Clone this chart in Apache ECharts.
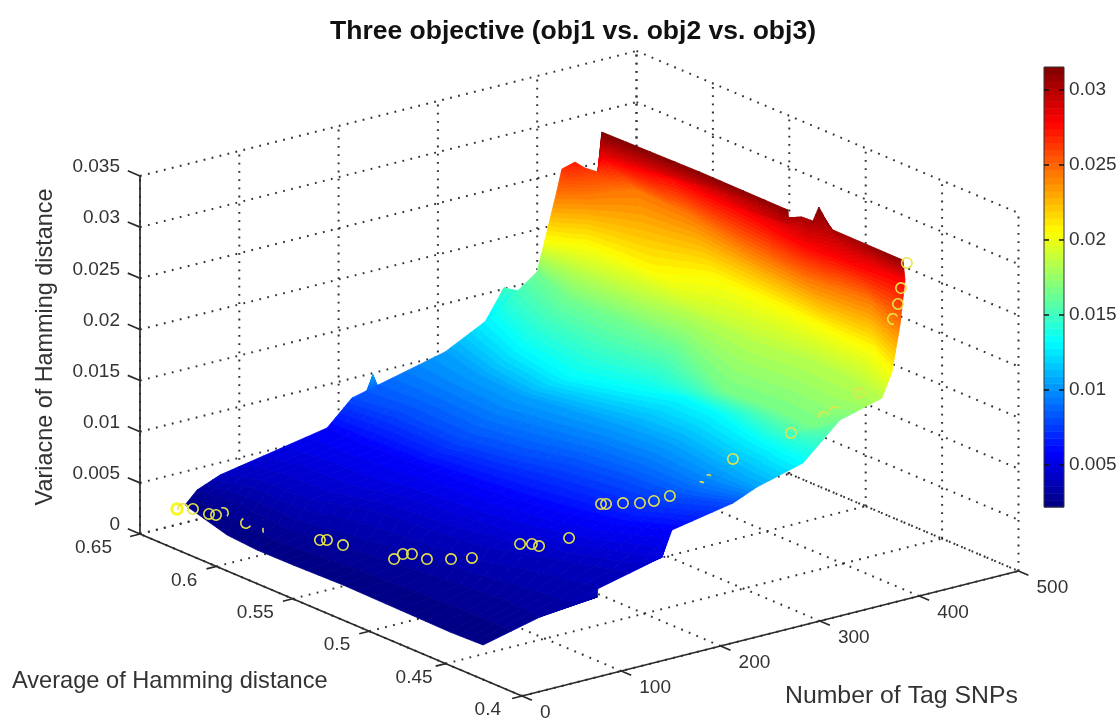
<!DOCTYPE html>
<html>
<head>
<meta charset="utf-8">
<style>
html,body{margin:0;padding:0;background:#fff}
#chart{width:1120px;height:720px}
#chart canvas{filter:blur(0.45px)}
</style>
<script src="https://cdn.jsdelivr.net/npm/echarts@6/dist/echarts.min.js"></script>
</head>
<body>
<div id="chart"></div>
<script>
// ---------- axis ticks ----------
var xTicks = [0, 100, 200, 300, 400, 500];
var yTicks = [0.4, 0.45, 0.5, 0.55, 0.6, 0.65];
var zTicks = [0, 0.005, 0.01, 0.015, 0.02, 0.025, 0.03, 0.035];
var zTickLabels = ['0', '0.005', '0.01', '0.015', '0.02', '0.025', '0.03', '0.035'];
var yTickLabels = ['0.4', '0.45', '0.5', '0.55', '0.6', '0.65'];
var xTickLabels = ['0', '100', '200', '300', '400', '500'];
var barTicks = [0.005, 0.01, 0.015, 0.02, 0.025, 0.03];
var barMin = 0.0022, barMax = 0.03153;

// ---------- surface (obj2 = tag SNPs, obj1 = average, obj3 = variance) ----------
var surfaceTagSNPs = [
 [38.1,20.0,16.6,17.0,18.8,17.5,16.3,17.9],
 [55.9,60.6,55.0,63.0,72.3,80.4,86.6,83.4],
 [77.5,95.4,97.2,120.2,128.3,139.4,165.7,190.5],
 [187.7,186.4,189.5,194.3,199.1,209.8,225.2,253.8],
 [214.7,224.2,222.2,235.9,252.6,261.8,268.1,299.0],
 [303.9,291.7,287.1,296.4,305.6,310.4,301.8,299.9],
 [341.8,317.5,304.4,327.5,346.0,343.7,330.6,323.5],
 [389.7,368.8,370.8,371.3,329.7,334.4,331.0,360.6],
 [385.5,385.1,387.0,394.9,392.6,400.6,398.9,389.4],
 [381.5,390.3,400.6,402.0,400.6,431.0,430.5,426.3,424.9,404.1],
 [394.6,405.3,416.1,433.1,453.2,449.4,436.3,428.4,436.5,418.2],
 [406.6,414.5,422.6,429.4,425.4,440.1,436.2,425.7,427.1,435.1]
];
var surfaceAvgHamming = [
 [.6453,.6060,.5842,.5609,.5293,.4912,.4577,.4371],
 [.6490,.6240,.5876,.5567,.5269,.4929,.4674,.4424],
 [.6480,.6334,.6019,.5776,.5436,.5115,.4828,.4532],
 [.6496,.6239,.5965,.5669,.5372,.5115,.4855,.4668],
 [.6508,.6255,.5831,.5547,.5328,.5061,.4774,.4562],
 [.6479,.6171,.5880,.5612,.5345,.5049,.4666,.4411],
 [.6431,.6077,.5665,.5376,.5196,.4958,.4638,.4264],
 [.6435,.6083,.5736,.5379,.4814,.4518,.4254,.4263],
 [.6381,.6136,.5743,.5435,.5027,.4719,.4447,.4175],
 [.6329,.6249,.6178,.5972,.5746,.5552,.5090,.4690,.4464,.4205],
 [.6342,.6300,.6259,.6239,.6193,.5822,.5409,.4946,.4560,.4244],
 [.6381,.6347,.6334,.6294,.6241,.5892,.5428,.4928,.4630,.4321]
];
var surfaceVariance = [
 [.0022,.0022,.0022,.0022,.0022,.0022,.0022,.0022],
 [.003,.003,.003,.003,.003,.003,.003,.003],
 [.004,.004,.004,.004,.004,.004,.004,.004],
 [.0058,.0058,.0058,.0058,.0058,.0058,.0058,.0058],
 [.008,.008,.008,.008,.008,.008,.008,.008],
 [.0105,.0105,.0105,.0105,.0105,.0105,.0105,.0105],
 [.0132,.0132,.0132,.0132,.0132,.0132,.0132,.0132],
 [.0165,.0165,.0165,.0165,.0165,.0165,.0165,.0165],
 [.0185,.0185,.0185,.0185,.0185,.0185,.0185,.0185],
 [.0205,.0205,.0205,.0205,.0205,.0205,.0205,.0205,.0205,.0205],
 [.0245,.0245,.0245,.0245,.0245,.0245,.0245,.0245,.0245,.0245],
 [.0265,.0272,.0265,.0262,.028,.028,.028,.028,.028,.028]
];
// crest of the wall at the far side
var crestTagSNPs   = [429.4,409.1,416.1,415.1,419.3,425.7,426.8,434.5,426.1,414.7];
var crestAvgHamming= [.6294,.6136,.5540,.4957,.4978,.4935,.4869,.4881,.4748,.4202];
var crestVariance  = [.0262,.0316,.0313,.0313,.0297,.0305,.0305,.0316,.0305,.0312];
// small peaks on the far edge and small lobes on the near edge
var peakABase = [[224.9,.6483,.0084],[239.1,.6490,.0084]];
var peakATip  = [[224.1,.6432,.0105],[224.1,.6432,.0105]];
var peakBBase = [[343.3,.6473,.0125],[384.6,.6447,.0145]];
var peakBTip  = [[367.8,.6508,.0150],[367.8,.6508,.0150]];
var lobeABase = [[83.4,.4424,.003],[148.0,.4465,.004]];
var lobeATip  = [[141.6,.4429,.0035],[141.6,.4429,.0035]];
var lobeBBase = [[190.5,.4532,.004],[253.8,.4668,.0058]];
var lobeBTip  = [[219.3,.4509,.005],[219.3,.4509,.005]];

// ---------- Pareto points (yellow circles) ----------
var paretoTagSNPs = [27.1,30.9,37.2,38.4,41.3,48.7,46.7,48.7,59.0,63.5,66.1,77.5,90.6,96.3,98.3,113.5,125.3,171.9,179.4,180.9,204.2,247.6,250.8,259.9,267.6,274.9,284.8,294.9,302.3,311.2,340.8,355.0,358.7,382.3,392.3,394.9,397.7,416.0];
var paretoAvgHamming = [.6434,.6419,.6395,.6298,.6271,.6273,.6110,.5979,.5706,.5689,.5601,.5341,.5368,.5346,.5261,.5202,.5142,.5130,.5101,.5064,.5019,.5092,.5080,.5028,.4967,.4923,.4883,.4745,.4747,.4642,.4455,.4331,.4283,.4279,.4122,.4106,.4104,.4185];
var paretoVariance = [.0022,.0022,.0022,.0023,.0023,.0023,.0024,.0025,.003,.003,.003,.003,.003,.003,.003,.003,.0032,.0035,.0035,.0035,.004,.0058,.0058,.006,.0062,.0065,.007,.0085,.009,.0115,.0145,.0165,.0172,.0185,.0265,.028,.0295,.031];
// circles partly hidden behind the surface: visible arc in degrees
var paretoVisibleArcs = {1:[170,370],5:[-110,40],6:[30,240],7:[150,205],27:[255,305],28:[255,305],31:[170,330],32:[200,320],34:[80,330]};

// ---------- view of the 3-D box ----------
var view = {ox:522, oy:696, xdx:496.5, xdy:-125, ydx:-382, ydy:-162, zdy:-358,
            xMin:0, xMax:500, yMin:0.4, yMax:0.65, zMin:0, zMax:0.035};
function project(x, y, z) {
  var u = (x - view.xMin) / (view.xMax - view.xMin);
  var v = (y - view.yMin) / (view.yMax - view.yMin);
  var w = (z - view.zMin) / (view.zMax - view.zMin);
  return [view.ox + u * view.xdx + v * view.ydx, view.oy + u * view.xdy + v * view.ydy + w * view.zdy];
}
function depth(x, y) {
  return 382 * (x - view.xMin) / (view.xMax - view.xMin) + 496.5 * (y - view.yMin) / (view.yMax - view.yMin);
}
function clamp01(a) { return a < 0 ? 0 : (a > 1 ? 1 : a); }
function jet(z) {
  var t = clamp01((z - barMin) / (barMax - barMin));
  var r = clamp01(1.5 - Math.abs(4 * t - 3));
  var g = clamp01(1.5 - Math.abs(4 * t - 2));
  var b = clamp01(1.5 - Math.abs(4 * t - 1));
  return 'rgb(' + Math.round(r * 255) + ',' + Math.round(g * 255) + ',' + Math.round(b * 255) + ')';
}

// ---------- build shaded cells from the surface tables ----------
function rowNodes(xs, ys, zs) { return xs.map(function (x, i) { return [x, ys[i], zs[i]]; }); }
var rows = surfaceTagSNPs.map(function (xs, k) { return rowNodes(xs, surfaceAvgHamming[k], surfaceVariance[k]); });
var crest = rowNodes(crestTagSNPs, crestAvgHamming, crestVariance);
var strips = [];
for (var k = 0; k + 1 < rows.length; k++) strips.push([rows[k], rows[k + 1]]);
strips.push([rows[rows.length - 1].slice(3), crest]);
strips.push([peakABase, peakATip]);
strips.push([peakBBase, peakBTip]);
strips.push([lobeABase, lobeATip]);
strips.push([lobeBBase, lobeBTip]);

function gcd(a, b) { return b ? gcd(b, a % b) : a; }
function sampleRow(row, s) {
  var f = s * (row.length - 1), i = Math.min(Math.floor(f + 1e-9), row.length - 2), t = f - i;
  return [0, 1, 2].map(function (d) { return row[i][d] + (row[i + 1][d] - row[i][d]) * t; });
}
function mix(a, b, t) { return [0, 1, 2].map(function (d) { return a[d] + (b[d] - a[d]) * t; }); }
var cells = [];
strips.forEach(function (st) {
  var a = st[0], b = st[1], la = a.length - 1, lb = b.length - 1;
  var n = la * lb / gcd(la, lb), base = n;
  while (n < 28) n += base;
  var dz = 0;
  for (var i = 0; i <= n; i++) dz = Math.max(dz, Math.abs(sampleRow(a, i / n)[2] - sampleRow(b, i / n)[2]));
  var m = Math.max(2, Math.ceil(dz / 0.0004));
  for (var i = 0; i < n; i++) {
    var a0 = sampleRow(a, i / n), a1 = sampleRow(a, (i + 1) / n), b0 = sampleRow(b, i / n), b1 = sampleRow(b, (i + 1) / n);
    for (var j = 0; j < m; j++) {
      var p = [mix(a0, b0, j / m), mix(a1, b1, j / m), mix(a1, b1, (j + 1) / m), mix(a0, b0, (j + 1) / m)];
      var cx = 0, cy = 0, cz = 0;
      p.forEach(function (q) { cx += q[0] / 4; cy += q[1] / 4; cz += q[2] / 4; });
      cells.push({ pts: p, color: jet(cz), d: depth(cx, cy) + cz * 0.001 });
    }
  }
});
cells.sort(function (s, t) { return t.d - s.d; });

// ---------- box grid and axes as 3-D segments ----------
var yEnd = view.yMax, xEnd = view.xMax, zEnd = view.zMax;
var dotted = [], solid = [];
xTicks.forEach(function (x) {
  dotted.push([[x, view.yMin, 0], [x, yEnd, 0]]);
  dotted.push([[x, yEnd, 0], [x, yEnd, zEnd]]);
});
yTicks.forEach(function (y) {
  dotted.push([[0, y, 0], [xEnd, y, 0]]);
  dotted.push([[xEnd, y, 0], [xEnd, y, zEnd]]);
});
zTicks.forEach(function (z) {
  dotted.push([[0, yEnd, z], [xEnd, yEnd, z]]);
  dotted.push([[xEnd, yEnd, z], [xEnd, view.yMin, z]]);
});
solid.push([[0, yEnd, 0], [0, yEnd, zEnd]]);
solid.push([[0, yEnd, 0], [0, view.yMin, 0]]);
solid.push([[0, view.yMin, 0], [xEnd, view.yMin, 0]]);
zTicks.forEach(function (z) { solid.push([[0, yEnd, z], [0, yEnd + 0.008, z]]); });
yTicks.forEach(function (y) { solid.push([[0, y, 0], [-10, y, 0]]); });
xTicks.forEach(function (x) { solid.push([[x, view.yMin, 0], [x, view.yMin - 0.0065, 0]]); });

var labelFont = '19px "Liberation Sans", Arial, sans-serif';
var titleFont = '23.4px "Liberation Sans", Arial, sans-serif';
var yLabelShift = [-21, -13, -19, -19, -19, -28];
var tickTexts = [];
zTicks.forEach(function (z, i) { tickTexts.push({ p: [0, yEnd, z], t: zTickLabels[i], dx: -20, dy: -9, align: 'right' }); });
yTicks.forEach(function (y, i) { tickTexts.push({ p: [0, y, 0], t: yTickLabels[i], dx: yLabelShift[i], dy: 14, align: 'right' }); });
xTicks.forEach(function (x, i) { tickTexts.push({ p: [x, view.yMin, 0], t: xTickLabels[i], dx: 18, dy: 17, align: 'left' }); });

function idx(list) { return list.map(function (_, i) { return [i]; }); }
function segRender(list, style) {
  return function (params, api) {
    var s = list[params.dataIndex];
    var a = api.coord(project(s[0][0], s[0][1], s[0][2]));
    var b = api.coord(project(s[1][0], s[1][1], s[1][2]));
    return { type: 'line', shape: { x1: a[0], y1: a[1], x2: b[0], y2: b[1] }, style: style };
  };
}
var levels = [];
for (var L = 0; L < 64; L++) levels.push(L);

var chart = echarts.init(document.getElementById('chart'), null, { renderer: 'canvas' });
chart.setOption({
  animation: false,
  backgroundColor: '#ffffff',
  title: {
    text: 'Three objective (obj1 vs. obj2 vs. obj3)', left: 568, top: 13, textAlign: 'center',
    textStyle: { fontFamily: '"Liberation Sans", Arial, sans-serif', fontWeight: 'bold', fontSize: 26.5, color: '#111' }
  },
  grid: [
    { left: 0, top: 0, width: 1120, height: 720, containLabel: false },
    { left: 1044, top: 67, width: 20, height: 440, containLabel: false }
  ],
  xAxis: [
    { type: 'value', gridIndex: 0, min: 0, max: 1120, show: false },
    { type: 'value', gridIndex: 1, min: 0, max: 1, show: false }
  ],
  yAxis: [
    { type: 'value', gridIndex: 0, min: 0, max: 720, inverse: true, show: false },
    { type: 'value', gridIndex: 1, min: barMin, max: barMax, position: 'right', z: 6,
      axisLine: { show: false }, axisTick: { show: false },
      axisLabel: { show: true, margin: 5, customValues: barTicks, formatter: function (v) { return String(+v.toFixed(3)); },
                   fontFamily: '"Liberation Sans", Arial, sans-serif', fontSize: 19, color: '#333' },
      splitLine: { show: false } }
  ],
  graphic: [
    { type: 'text', left: 12, top: 669, style: { text: 'Average of Hamming distance', font: '23.6px "Liberation Sans", Arial, sans-serif', fill: '#333' } },
    { type: 'text', left: 785, top: 684, style: { text: 'Number of Tag SNPs', font: '24.8px "Liberation Sans", Arial, sans-serif', fill: '#333' } },
    { type: 'text', x: 46, y: 347, rotation: Math.PI / 2,
      style: { text: 'Variacne of Hamming distance', font: titleFont, fill: '#333', textAlign: 'center', textVerticalAlign: 'middle' } }
  ],
  series: [
    { type: 'custom', coordinateSystem: 'cartesian2d', xAxisIndex: 0, yAxisIndex: 0, silent: true, clip: false, z: 1,
      data: idx(dotted), renderItem: segRender(dotted, { stroke: '#333', lineWidth: 2, lineDash: [1.8, 6.4], fill: null }) },
    { type: 'custom', coordinateSystem: 'cartesian2d', xAxisIndex: 0, yAxisIndex: 0, silent: true, clip: false, z: 2,
      data: idx(solid), renderItem: segRender(solid, { stroke: '#2a2a2a', lineWidth: 1.7, fill: null }) },
    { type: 'custom', coordinateSystem: 'cartesian2d', xAxisIndex: 0, yAxisIndex: 0, silent: true, clip: false, z: 3,
      progressive: 0, data: idx(cells),
      renderItem: function (params, api) {
        var c = cells[params.dataIndex];
        return { type: 'polygon', shape: { points: c.pts.map(function (q) { return api.coord(project(q[0], q[1], q[2])); }) },
                 style: { fill: c.color, stroke: c.color, lineWidth: 0.8 } };
      } },
    { type: 'custom', coordinateSystem: 'cartesian2d', xAxisIndex: 0, yAxisIndex: 0, silent: true, clip: false, z: 4,
      data: idx(paretoTagSNPs),
      renderItem: function (params, api) {
        var i = params.dataIndex;
        var c = api.coord(project(paretoTagSNPs[i], paretoAvgHamming[i], paretoVariance[i]));
        var arc = paretoVisibleArcs[i] || [0, 360];
        return { type: 'arc', shape: { cx: c[0], cy: c[1], r: 5.2, startAngle: arc[0] * Math.PI / 180, endAngle: arc[1] * Math.PI / 180, clockwise: true },
                 style: { stroke: i === 0 ? '#f8f820' : '#e4e44c', lineWidth: i === 0 ? 3 : 1.6, fill: null } };
      } },
    { type: 'custom', coordinateSystem: 'cartesian2d', xAxisIndex: 0, yAxisIndex: 0, silent: true, clip: false, z: 5,
      data: idx(tickTexts),
      renderItem: function (params, api) {
        var t = tickTexts[params.dataIndex];
        var c = api.coord(project(t.p[0], t.p[1], t.p[2]));
        return { type: 'text', style: { x: c[0] + t.dx, y: c[1] + t.dy, text: t.t, font: labelFont, fill: '#333', textAlign: t.align, textVerticalAlign: 'middle' } };
      } },
    { type: 'custom', coordinateSystem: 'cartesian2d', xAxisIndex: 1, yAxisIndex: 1, silent: true, clip: false, z: 3,
      data: idx(levels),
      renderItem: function (params, api) {
        var i = params.dataIndex;
        var lo = barMin + (barMax - barMin) * i / 64, hi = barMin + (barMax - barMin) * (i + 1) / 64;
        var a = api.coord([0, hi]), b = api.coord([1, lo]);
        return { type: 'rect', shape: { x: a[0], y: a[1], width: b[0] - a[0], height: b[1] - a[1] + 0.5 },
                 style: { fill: jet((lo + hi) / 2) } };
      } },
    { type: 'custom', coordinateSystem: 'cartesian2d', xAxisIndex: 1, yAxisIndex: 1, silent: true, clip: false, z: 4,
      data: idx([0]),
      renderItem: function (params, api) {
        var a = api.coord([0, barMax]), b = api.coord([1, barMin]);
        var kids = [{ type: 'rect', shape: { x: a[0], y: a[1], width: b[0] - a[0], height: b[1] - a[1] },
                      style: { fill: null, stroke: '#333', lineWidth: 1 } }];
        barTicks.forEach(function (v) {
          var l = api.coord([0, v]), r = api.coord([1, v]);
          kids.push({ type: 'line', shape: { x1: l[0], y1: l[1], x2: l[0] + 5, y2: l[1] }, style: { stroke: '#111', lineWidth: 1.5 } });
          kids.push({ type: 'line', shape: { x1: r[0] - 5, y1: r[1], x2: r[0], y2: r[1] }, style: { stroke: '#111', lineWidth: 1.5 } });
        });
        return { type: 'group', children: kids };
      } }
  ]
});
</script>
</body>
</html>
